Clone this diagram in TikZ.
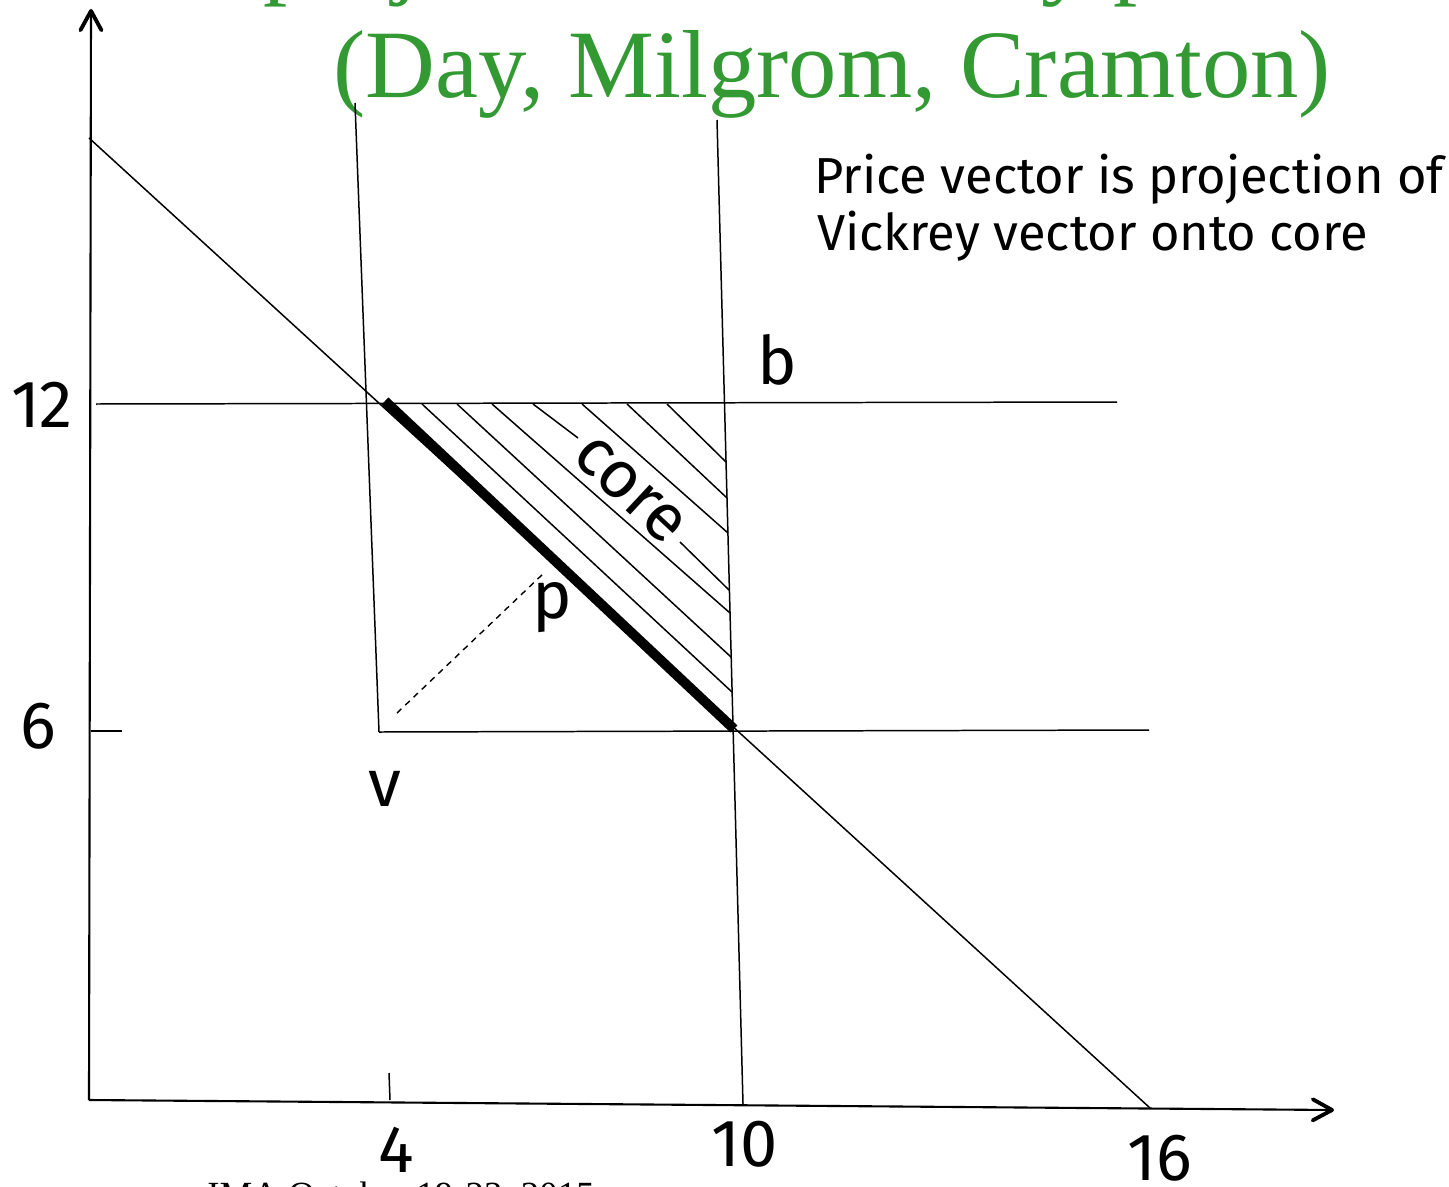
\documentclass[tikz,border=0pt]{standalone}
\usepackage{fontspec}
\setmainfont{Fira Sans}
\newfontfamily\timesfont{Liberation Serif}
\usetikzlibrary{arrows.meta}
\definecolor{titlegreen}{RGB}{51,153,51}
\begin{document}
\begin{tikzpicture}[x=0.02cm,y=-0.02cm,
  thinline/.style={line width=0.85pt},
  axisline/.style={line width=1.2pt,-{Straight Barb[length=11pt,width=12pt,line width=2.2pt,round]}},
  thickseg/.style={line width=5.6pt},
  hatchline/.style={line width=0.85pt},
  projline/.style={line width=0.8pt,dash pattern=on 3.5pt off 3pt},
  lbl/.style={font=\fontsize{38}{40}\selectfont,inner sep=0pt},
  note/.style={font=\fontsize{28.8}{31}\selectfont,inner sep=0pt,anchor=base west},
  titletext/.style={font=\timesfont\fontsize{55}{60}\selectfont,text=titlegreen,inner sep=0pt,anchor=base west},
  foot/.style={font=\timesfont\fontsize{21}{24}\selectfont,inner sep=0pt,anchor=base west}
]
\useasboundingbox (0,0) rectangle (1449,1186);
\clip (0,0) rectangle (1449,1186);
\fill[white] (0,0) rectangle (1449,1186);

% title (cut off by the page edge)
\node[titletext] (title1) at (51,-13) {Core projection of Vickrey point};
\node[titletext] (title2) at (333,97) {(Day, Milgrom, Cramton)};
\node[foot] (footer) at (207,1207) {IMA October 19-23, 2015};

% coordinates
\coordinate (O) at (89,1100);
\coordinate (Ytop) at (91,9);
\coordinate (Xend) at (1334,1110);
\coordinate (D1) at (89,138);
\coordinate (D2) at (1150,1108);
\coordinate (H12a) at (96,404);
\coordinate (H12b) at (1117,402);
\coordinate (T6a) at (91,731);
\coordinate (T6b) at (122,731);
\coordinate (Vpt) at (379,732);
\coordinate (H6b) at (1149,730);
\coordinate (VL) at (355,103);
\coordinate (VR) at (717,120);
\coordinate (VRb) at (743,1104);
\coordinate (T4a) at (389,1073);
\coordinate (T4b) at (390,1100);
\coordinate (Pa) at (385,401);
\coordinate (Pb) at (734,729);
\coordinate (Da) at (397,713);
\coordinate (Db) at (545,572);

% axes
\draw[axisline] (O) -- (Ytop);
\draw[axisline] (O) -- (Xend);

% lines
\draw[thinline] (D1) -- (D2);
\draw[thinline] (H12a) -- (H12b);
\draw[thinline] (T6a) -- (T6b);
\draw[thinline] (Vpt) -- (H6b);
\draw[thinline] (VL) -- (Vpt);
\draw[thinline] (VR) -- (VRb);
\draw[thinline] (T4a) -- (T4b);

% hatching of the core
\coordinate (ha1) at (422,404); \coordinate (hb1) at (732,692);
\coordinate (ha2) at (457,404); \coordinate (hb2) at (731,657);
\coordinate (ha3) at (492,404); \coordinate (hb3) at (730,613);
\coordinate (ha4) at (533,404); \coordinate (hm4) at (578,438);
\coordinate (hn4) at (680,542); \coordinate (hb4) at (729,590);
\coordinate (ha5) at (582,404); \coordinate (hb5) at (728,533);
\coordinate (ha6) at (627,404); \coordinate (hb6) at (727,498);
\coordinate (ha7) at (667,404); \coordinate (hb7) at (726,462);
\draw[hatchline] (ha1) -- (hb1);
\draw[hatchline] (ha2) -- (hb2);
\draw[hatchline] (ha3) -- (hb3);
\draw[hatchline] (ha4) -- (hm4);
\draw[hatchline] (hn4) -- (hb4);
\draw[hatchline] (ha5) -- (hb5);
\draw[hatchline] (ha6) -- (hb6);
\draw[hatchline] (ha7) -- (hb7);

% projection
\draw[thickseg] (Pa) -- (Pb);
\draw[projline] (Da) -- (Db);

% labels
\node[lbl,anchor=base] (l12) at (42,427) {12};
\node[lbl,anchor=base] (l6) at (38,748) {6};
\node[lbl,anchor=base] (l4) at (396,1172) {4};
\node[lbl,anchor=base] (l10) at (745,1166) {10};
\node[lbl,anchor=base] (l16) at (1160,1180) {16};
\node[lbl,anchor=base] (lb) at (777,384) {b};
\node[lbl,anchor=base] (lv) at (385,806) {v};
\node[lbl,anchor=base] (lp) at (552,618) {p};
\node[lbl,rotate=-43] (lcore) at (630,490) {core};

\node[note] (n1) at (814,193) {Price vector is projection of};
\node[note] (n2) at (817,250) {Vickrey vector onto core};
\end{tikzpicture}
\end{document}
